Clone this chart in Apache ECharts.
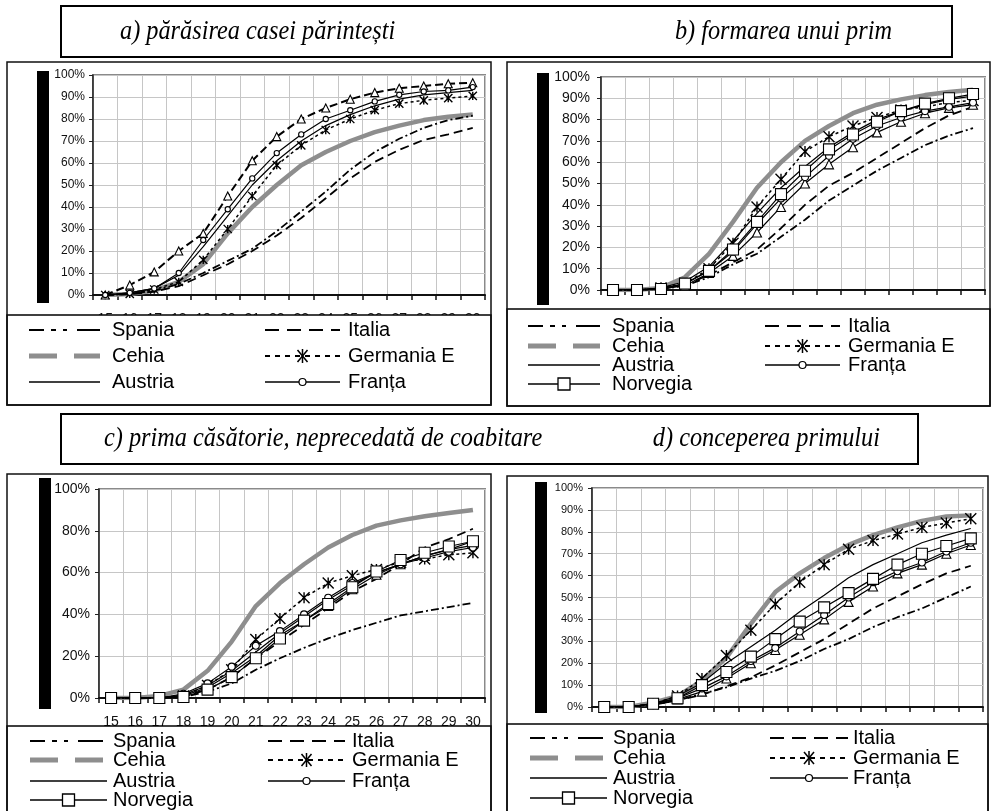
<!DOCTYPE html>
<html>
<head>
<meta charset="utf-8">
<script src="https://cdn.jsdelivr.net/npm/echarts@6/dist/echarts.min.js"></script>
<style>
html, body { margin: 0; padding: 0; background: #fff; }
#chart { width: 996px; height: 811px; }
</style>
</head>
<body>
<div id="chart"></div>
<script>
var ages = ['15', '16', '17', '18', '19', '20', '21', '22', '23', '24', '25', '26', '27', '28', '29', '30'];

// a) parasirea casei parintesti
var spaniaA   = [0, 0.5, 2, 5, 10, 15.5, 21, 29, 38, 47, 57, 65, 71, 76, 79.5, 81.5];
var italiaA   = [0, 0.3, 1.5, 4, 9, 14, 20, 27, 35, 44, 53, 60.5, 66, 70.5, 73, 76];
var cehiaA    = [0, 0.5, 2, 6, 14, 28, 40, 50, 59, 65, 70, 74, 77, 79.5, 81, 82];
var germaniaA = [0, 0.5, 2.5, 6, 16, 30, 45, 59, 68, 75, 80, 84, 87, 88.5, 89.5, 90.5];
var austriaA  = [0, 1, 3, 9, 22, 36, 50, 61, 70, 77, 82, 86, 89, 91, 92, 93];
var frantaA   = [0, 1, 3, 10, 25, 39, 53, 64.5, 73, 80, 84, 88, 91, 92.5, 93, 94.5];
var triunghiA = [0, 4.5, 10.5, 20, 28, 45, 61, 72, 80, 85, 89, 92, 94, 95, 96, 96.5];

// b) formarea unui prim
var spaniaB   = [0, 0, 0.5, 2, 6, 12, 17, 25, 33, 42, 49, 56, 62, 68, 72.5, 76];
var italiaB   = [0, 0, 0.5, 2.5, 7, 13, 19, 29, 40, 49, 55, 62, 69, 76, 82, 86];
var cehiaB    = [0, 0, 1, 6, 17, 32, 48, 60, 70, 77, 83, 87, 89.5, 91.5, 93, 94];
var germaniaB = [0, 0, 1, 3, 10, 22, 39, 52, 65, 72, 77, 81, 84.5, 86, 88, 89];
var austriaB  = [0, 0, 1, 4, 11, 23, 36, 48, 58, 67, 74, 80, 84, 87, 89.5, 91];
var frantaB   = [0, 0, 0.5, 3, 9, 18, 31, 43, 53, 63, 71, 77, 81, 84, 86, 88];
var norvegiaB = [0, 0, 0.5, 3, 9, 19, 32, 45, 56, 66, 73, 79, 84, 87.5, 90, 92];
var triunghiB = [0, 0, 0.5, 2, 8, 16, 27, 39, 50, 59, 67, 74, 79, 83, 85.5, 87];

// c) prima casatorie, neprecedata de coabitare
var spaniaC   = [0, 0, 0, 0.5, 3, 7, 13.5, 19, 24, 28.5, 32.5, 36, 39.5, 41.5, 43.5, 45.5];
var italiaC   = [0, 0, 0, 1, 4, 10, 19, 27, 35, 43, 51, 57, 64, 72, 76, 81];
var cehiaC    = [0, 0, 1, 4, 13, 27, 44, 55, 64, 72, 78, 82.5, 85, 87, 88.5, 90];
var germaniaC = [0, 0, 0, 1, 6, 13.5, 28, 38, 48, 55, 58.5, 61.5, 65, 66.5, 68.5, 69.5];
var austriaC  = [0, 0, 0, 1.5, 6, 13, 22, 31, 39, 47, 54, 60, 64, 68, 71, 73];
var frantaC   = [0, 0, 0, 2, 7, 15, 25, 32, 40, 48, 55, 60, 64, 67, 70, 72];
var norvegiaC = [0, 0, 0, 0.5, 4, 10, 19, 28.5, 37, 45, 53, 60.5, 66, 69.5, 72.5, 75];
var triunghiC = [0, 0, 0, 1, 5, 12, 20, 30, 37, 44, 52, 59, 64, 68, 71, 75];

// d) conceperea primului
var spaniaD   = [0, 0, 1, 3, 6, 9, 13, 16.5, 21, 26.5, 31, 36.5, 41, 45, 50, 55];
var italiaD   = [0, 0, 1, 3, 5.5, 9.5, 13.5, 19, 25, 31, 38, 45, 50.5, 56, 61, 64.5];
var cehiaD    = [0, 0, 2, 5, 12, 22.5, 38, 52.5, 61, 68, 74, 78.5, 82, 85, 87, 87.5];
var germaniaD = [0, 0, 1.5, 5, 13, 23.5, 35, 47, 57, 65, 72, 76, 79, 82, 84, 86];
var austriaD  = [0, 0, 1.5, 5, 11, 20, 27.5, 35, 43.5, 51, 59, 65, 70, 75, 78.5, 81.5];
var frantaD   = [0, 0, 1.5, 4, 8.5, 14, 21, 27, 34.5, 42, 50, 57, 62, 66, 71, 75];
var norvegiaD = [0, 0, 1.5, 4, 10, 16, 23, 31, 39, 45.5, 52, 58.5, 65, 70, 73.5, 77];
var triunghiD = [0, 0, 1.5, 3.5, 7, 13, 20, 26, 33, 40, 48, 55, 61, 65, 70, 74];

var legendOrder = ['Spania', 'Italia', 'Cehia', 'Germania E', 'Austria', 'Franța', 'Norvegia'];

var panelData = [
    { 'Cehia': cehiaA, 'Spania': spaniaA, 'Italia': italiaA, 'Austria': austriaA, 'Germania E': germaniaA, 'triunghi': triunghiA, 'Franța': frantaA },
    { 'Cehia': cehiaB, 'Spania': spaniaB, 'Italia': italiaB, 'Austria': austriaB, 'Germania E': germaniaB, 'triunghi': triunghiB, 'Franța': frantaB, 'Norvegia': norvegiaB },
    { 'Cehia': cehiaC, 'Spania': spaniaC, 'Italia': italiaC, 'Austria': austriaC, 'Germania E': germaniaC, 'triunghi': triunghiC, 'Franța': frantaC, 'Norvegia': norvegiaC },
    { 'Cehia': cehiaD, 'Spania': spaniaD, 'Italia': italiaD, 'Austria': austriaD, 'Germania E': germaniaD, 'triunghi': triunghiD, 'Franța': frantaD, 'Norvegia': norvegiaD }
];

var star = 'path://M0,0L10,10M10,0L0,10M5,0L5,10';
var looks = {
    'Cehia':      { color: '#8e8e8e', width: 4.5, type: 'solid', symbol: 'none', size: 0 },
    'Spania':     { color: '#000', width: 1.8, type: [8, 3, 2, 3], symbol: 'none', size: 0 },
    'Italia':     { color: '#000', width: 1.8, type: [9, 5], symbol: 'none', size: 0 },
    'Austria':    { color: '#000', width: 1.2, type: 'solid', symbol: 'none', size: 0 },
    'Germania E': { color: '#000', width: 1.5, type: [3, 3], symbol: star, size: 11 },
    'triunghi':   { color: '#000', width: 1.2, type: 'solid', symbol: 'triangle', size: 9 },
    'Franța':     { color: '#000', width: 1.2, type: 'solid', symbol: 'circle', size: 7 },
    'Norvegia':   { color: '#000', width: 1.2, type: 'solid', symbol: 'rect', size: 11 }
};

// legend samples are drawn longer than the lines in the plots
var sampleStyle = {
    'Spania':     { stroke: '#000', lineWidth: 2, lineDash: [15, 7, 5, 7, 4, 10, 25, 100] },
    'Italia':     { stroke: '#000', lineWidth: 2, lineDash: [14, 8] },
    'Cehia':      { stroke: '#8e8e8e', lineWidth: 5, lineDash: [28, 17] },
    'Germania E': { stroke: '#000', lineWidth: 2, lineDash: [5, 5] },
    'Austria':    { stroke: '#000', lineWidth: 1.5 },
    'Franța':     { stroke: '#000', lineWidth: 1.5 },
    'Norvegia':   { stroke: '#000', lineWidth: 1.5 }
};

var grids = [
    { left: 93, top: 75, width: 392, height: 220 },
    { left: 601, top: 77, width: 384, height: 213 },
    { left: 99, top: 489, width: 386, height: 209 },
    { left: 592, top: 488, width: 391, height: 219 }
];
var yStep = [10, 10, 20, 10];
var yFont = [12, 14, 14, 11];
var yMargin = [8, 11, 9, 9];
var xMargin = [17, 18, 17, 16];

var legendBoxes = [
    { x: 7, y: 315, w: 484, h: 90, rows: [330, 356, 382], cols: [[29, 100, 112], [265, 340, 348]] },
    { x: 507, y: 309, w: 483, h: 97, rows: [326, 346, 365, 384], cols: [[528, 600, 612], [765, 840, 848]] },
    { x: 7, y: 726, w: 484, h: 100, rows: [741, 760, 781, 800], cols: [[30, 107, 113], [268, 345, 352]] },
    { x: 507, y: 724, w: 481, h: 100, rows: [738, 758, 778, 798], cols: [[530, 607, 613], [770, 848, 853]] }
];
var frames = [
    { x: 7, y: 62, w: 484, h: 343 },
    { x: 507, y: 62, w: 483, h: 344 },
    { x: 7, y: 474, w: 484, h: 360 },
    { x: 507, y: 476, w: 481, h: 360 }
];
var blackBars = [
    { x: 37, y: 71, h: 232 },
    { x: 537, y: 73, h: 232 },
    { x: 39, y: 478, h: 231 },
    { x: 535, y: 482, h: 231 }
];

function makeSeries(p, name, values) {
    var lk = looks[name];
    var dash = lk.type, w = lk.width, size = lk.size;
    if (p === 0) {
        size = size * 0.75;
        if (name === 'triunghi') { dash = [8, 4]; w = 2; size = 8; }
    }
    return {
        type: 'line',
        name: name,
        xAxisIndex: p,
        yAxisIndex: p,
        data: values,
        symbol: lk.symbol,
        symbolSize: size,
        showAllSymbol: true,
        lineStyle: { color: lk.color, width: w, type: dash },
        itemStyle: { color: '#fff', borderColor: '#000', borderWidth: name === 'Germania E' ? 1.4 : 1.1 },
        z: name === 'Cehia' ? 2 : 3,
        silent: true
    };
}

var series = [];
panelData.forEach(function (set, p) {
    Object.keys(set).forEach(function (name) {
        series.push(makeSeries(p, name, set[name]));
    });
});

var xAxes = grids.map(function (g, p) {
    return {
        type: 'category',
        gridIndex: p,
        data: ages,
        boundaryGap: true,
        axisLine: { lineStyle: { color: '#111', width: 2 } },
        axisTick: { show: true, length: 5, lineStyle: { color: '#111', width: 1.5 } },
        axisLabel: { interval: 0, margin: xMargin[p], fontSize: 14, color: '#111', fontFamily: 'Liberation Sans' },
        splitLine: { show: true, lineStyle: { color: '#c6c6c6', width: 1 } }
    };
});

var yAxes = grids.map(function (g, p) {
    return {
        type: 'value',
        gridIndex: p,
        min: 0,
        max: 100,
        interval: yStep[p],
        axisLine: { show: true, lineStyle: { color: '#222', width: 1.5 } },
        axisTick: { show: true, length: 4, lineStyle: { color: '#222' } },
        axisLabel: { formatter: '{value}%', fontSize: yFont[p], margin: yMargin[p], color: '#111', fontFamily: 'Liberation Sans' },
        splitLine: { show: true, lineStyle: { color: '#c6c6c6', width: 1 } }
    };
});

function legendItems(p) {
    var box = legendBoxes[p];
    var out = [{
        type: 'rect', z: 50,
        shape: { x: box.x, y: box.y, width: box.w, height: box.h },
        style: { fill: '#fff', stroke: '#000', lineWidth: 1.5 }
    }];
    var names = p === 0 ? legendOrder.slice(0, 6) : legendOrder;
    names.forEach(function (name, i) {
        var c = box.cols[i % 2];
        var y = box.rows[Math.floor(i / 2)];
        var s = sampleStyle[name];
        var mx = (c[0] + c[1]) / 2;
        out.push({
            type: 'line', z: 51,
            shape: { x1: c[0], y1: y, x2: c[1], y2: y },
            style: { stroke: s.stroke, lineWidth: s.lineWidth, lineDash: s.lineDash }
        });
        if (name === 'Germania E') {
            [[-5, -6, 5, 6], [5, -6, -5, 6], [0, -7, 0, 7]].forEach(function (d) {
                out.push({
                    type: 'line', z: 52,
                    shape: { x1: mx + d[0], y1: y + d[1], x2: mx + d[2], y2: y + d[3] },
                    style: { stroke: '#000', lineWidth: 1.5 }
                });
            });
        }
        if (name === 'Franța') {
            out.push({ type: 'circle', z: 52, shape: { cx: mx, cy: y, r: 3.5 }, style: { fill: '#fff', stroke: '#000', lineWidth: 1.2 } });
        }
        if (name === 'Norvegia') {
            out.push({ type: 'rect', z: 52, shape: { x: mx - 6, y: y - 6, width: 12, height: 12 }, style: { fill: '#fff', stroke: '#000', lineWidth: 1.3 } });
        }
        out.push({
            type: 'text', z: 52,
            style: { text: name, x: c[2], y: y, font: '20px "Liberation Sans"', fill: '#000', verticalAlign: 'middle', textVerticalAlign: 'middle' }
        });
    });
    return out;
}

var graphics = [];
frames.forEach(function (f, p) {
    graphics = graphics.concat(legendItems(p));
    graphics.push({ type: 'rect', z: 53, shape: { x: f.x, y: f.y, width: f.w, height: f.h }, style: { fill: 'none', stroke: '#111', lineWidth: 1.5 } });
    var b = blackBars[p];
    graphics.push({ type: 'rect', z: 53, shape: { x: b.x, y: b.y, width: 12, height: b.h }, style: { fill: '#000' } });
});

// title boxes
function titleText(text, x, y, align) {
    return {
        type: 'text', z: 60, x: x, y: y, scaleX: 0.9,
        style: { text: text, x: 0, y: 0, font: 'italic 27px "Liberation Serif"', fill: '#000',
                 align: align, textAlign: align, verticalAlign: 'middle', textVerticalAlign: 'middle' }
    };
}
graphics.push({ type: 'rect', z: 60, shape: { x: 61, y: 6, width: 891, height: 51 }, style: { fill: 'none', stroke: '#000', lineWidth: 2 } });
graphics.push({ type: 'rect', z: 60, shape: { x: 61, y: 414, width: 857, height: 50 }, style: { fill: 'none', stroke: '#000', lineWidth: 2 } });
graphics.push(titleText('a) părăsirea casei părintești', 120, 32, 'left'));
graphics.push(titleText('b) formarea unui prim', 892, 32, 'right'));
graphics.push(titleText('c) prima căsătorie, neprecedată de coabitare', 104, 439, 'left'));
graphics.push(titleText('d) conceperea primului', 880, 439, 'right'));

var chart = echarts.init(document.getElementById('chart'));
chart.setOption({
    backgroundColor: '#fff',
    animation: false,
    textStyle: { fontFamily: 'Liberation Sans' },
    grid: grids.map(function (g) {
        return { left: g.left, top: g.top, width: g.width, height: g.height, show: true, borderColor: '#8a8a8a', borderWidth: 2 };
    }),
    xAxis: xAxes,
    yAxis: yAxes,
    series: series,
    graphic: { elements: graphics }
});
</script>
</body>
</html>
